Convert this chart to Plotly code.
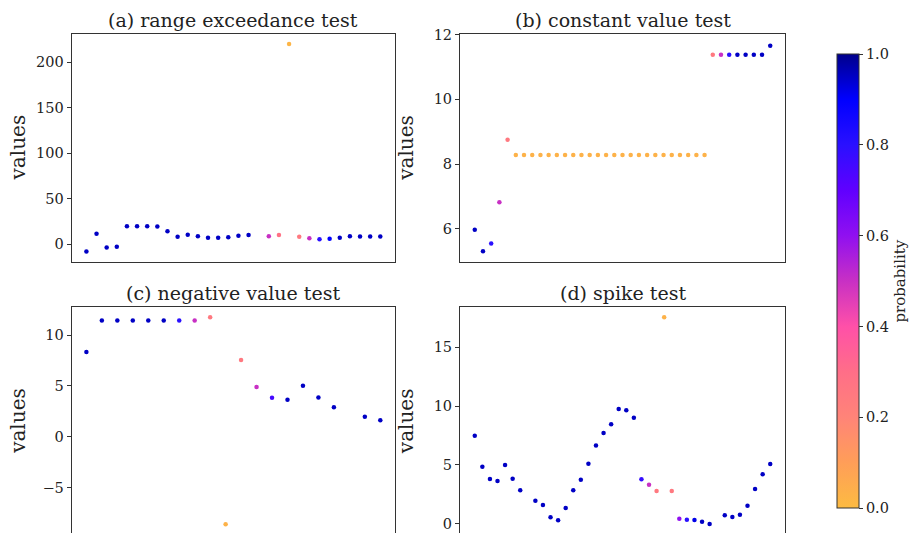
import plotly.graph_objects as go

# ---------------- data ----------------
titles = ["(a) range exceedance test", "(b) constant value test",
          "(c) negative value test", "(d) spike test"]

vals_a = [-8.0, 11.4, -3.6, -2.9, 19.8, 19.8, 19.8, 19.4, 14.3, 8.1,
          10.3, 8.8, 7.0, 7.0, 7.7, 9.2, 10.0, None, 8.8, 10.0,
          219.9, 8.1, 6.6, 5.5, 5.9, 7.0, 8.8, 8.4, 8.4, 8.4]
prob_a = [0.95, 0.95, 0.95, 0.95, 0.95, 0.95, 0.95, 0.95, 0.95, 0.95,
          0.95, 0.95, 0.95, 0.95, 0.95, 0.95, 0.95, None, 0.5, 0.28,
          0.02, 0.25, 0.5, 0.8, 0.9, 0.95, 0.95, 0.95, 0.95, 0.95]

vals_b = [5.97, 5.31, 5.55, 6.82, 8.75] + [8.28] * 24 + \
         [11.38, 11.38, 11.38, 11.38, 11.38, 11.38, 11.38, 11.66]
prob_b = [0.95, 0.95, 0.8, 0.5, 0.25] + [0.03] * 24 + \
         [0.25, 0.5, 0.8, 0.95, 0.95, 0.95, 0.95, 0.95]

vals_c = [8.34, 11.45, 11.45, 11.45, 11.45, 11.45, 11.45, 11.45, 11.75, -8.63,
          7.55, 4.89, 3.84, 3.64, 5.02, 3.87, 2.89, None, 1.97, 1.61]
prob_c = [0.95, 0.95, 0.95, 0.95, 0.95, 0.95, 0.8, 0.5, 0.25, 0.03,
          0.25, 0.5, 0.75, 0.95, 0.95, 0.95, 0.95, None, 0.95, 0.95]

vals_d = [7.48, 4.85, 3.80, 3.63, 4.99, 3.83, 2.84, None, 1.96, 1.59,
          0.54, 0.29, 1.34, 2.84, 3.74, 5.10, 6.66, 7.71, 8.45, 9.75,
          9.64, 9.01, 3.77, 3.32, 2.78, 17.55, 2.78, 0.43, 0.34, 0.31,
          0.17, -0.03, None, 0.71, 0.57, 0.77, 1.53, 2.95, 4.20, 5.08]
prob_d = [0.95, 0.95, 0.95, 0.95, 0.95, 0.95, 0.95, None, 0.95, 0.95,
          0.95, 0.95, 0.95, 0.95, 0.95, 0.95, 0.95, 0.95, 0.95, 0.95,
          0.95, 0.95, 0.78, 0.5, 0.25, 0.03, 0.25, 0.6, 0.8, 0.92,
          0.95, 0.95, None, 0.95, 0.95, 0.95, 0.95, 0.95, 0.95, 0.95]

yticks = [[0, 50, 100, 150, 200], [6, 8, 10, 12], [-5, 0, 5, 10], [0, 5, 10, 15]]
cbar_ticks = [0.0, 0.2, 0.4, 0.6, 0.8, 1.0]

colorscale = [
    [0.0, "#fcbb42"], [0.1, "#ff9e58"], [0.2, "#ff8478"], [0.3, "#ff6e88"],
    [0.4, "#ff50a8"], [0.5, "#c830c4"], [0.6, "#9010f0"], [0.7, "#6000ff"],
    [0.8, "#2a10ff"], [0.9, "#0000ff"], [1.0, "#00008b"],
]

W, H = 911, 533
FONT = "DejaVu Serif"

# pixel boxes (left, right, top, bottom)
boxes = [(71.7, 395, 34, 261.5), (460, 785, 34, 261.5),
         (71.7, 395, 307.3, 533), (460, 785, 307.3, 533)]
yranges = [[-19.05, 230.9], [4.99, 12.02], [-9.48, 12.74], [-0.79, 18.4]]

series = [(vals_a, prob_a), (vals_b, prob_b), (vals_c, prob_c), (vals_d, prob_d)]

fig = go.Figure()
layout = dict(width=W, height=H, margin=dict(l=0, r=0, t=0, b=0, autoexpand=False),
              paper_bgcolor="white", plot_bgcolor="white", showlegend=False,
              font=dict(family=FONT, color="#222"))
annotations = []

for i, ((v, p), (l, r, t, b)) in enumerate(zip(series, boxes)):
    n = len(v)
    xs = [k for k in range(n) if v[k] is not None]
    ys = [v[k] for k in xs]
    cs = [p[k] for k in xs]
    sfx = "" if i == 0 else str(i + 1)
    marker = dict(color=cs, colorscale=colorscale, cmin=0, cmax=1, size=4.5,
                  line=dict(width=0))
    if i == 0:
        marker.update(showscale=True, colorbar=dict(
            x=837.3 / W, xanchor="left", y=1 - (54 + 508.3) / 2 / H, yanchor="middle",
            len=454.3 / H, lenmode="fraction", thickness=21.7, thicknessmode="pixels",
            xpad=0, ypad=0,
            outlinewidth=1, outlinecolor="#333",
            tickvals=cbar_ticks, ticktext=[f"{t:.1f}" for t in cbar_ticks],
            ticks="outside", ticklen=4, tickcolor="#333",
            tickfont=dict(family=FONT, size=14.5, color="#222"),
            title=dict(text="probability", side="right",
                       font=dict(family=FONT, size=15, color="#222")),
        ))
    fig.add_trace(go.Scatter(x=xs, y=ys, mode="markers", marker=marker,
                             xaxis="x" + sfx, yaxis="y" + sfx, hoverinfo="skip"))
    span = n - 1
    bottom_panel = i >= 2
    layout["xaxis" + sfx] = dict(
        domain=[l / W, r / W], range=[-0.05 * span, span * 1.05],
        showgrid=False, zeroline=False, showticklabels=False, ticks="",
        showline=True, linecolor="#333", linewidth=1,
        mirror=not bottom_panel, side="top" if bottom_panel else "bottom",
        anchor="y" + sfx, fixedrange=True)
    layout["yaxis" + sfx] = dict(
        domain=[1 - b / H, 1 - t / H], range=yranges[i],
        tickvals=yticks[i], ticks="outside", ticklen=4, tickcolor="#333",
        tickfont=dict(family=FONT, size=14.5, color="#222"),
        showgrid=False, zeroline=False, showline=True, linecolor="#333",
        linewidth=1, mirror=True, anchor="x" + sfx, fixedrange=True)
    annotations.append(dict(
        text=titles[i], x=(l + r) / 2 / W, y=1 - (t - 1.5) / H, xref="paper", yref="paper",
        xanchor="center", yanchor="bottom", showarrow=False,
        font=dict(family=FONT, size=19, color="#222")))
    ymid = (t + b) / 2 if not bottom_panel else (t + 535) / 2
    annotations.append(dict(
        text="values", x=(l - 54) / W, y=1 - ymid / H,
        xref="paper", yref="paper", xanchor="center", yanchor="middle",
        textangle=-90, showarrow=False,
        font=dict(family=FONT, size=20, color="#222")))

layout["annotations"] = annotations
fig.update_layout(**layout)
fig.write_html("out.html", config={"displayModeBar": False},
               post_script="document.body.style.margin='0';"
                           "document.body.style.overflow='hidden';")
